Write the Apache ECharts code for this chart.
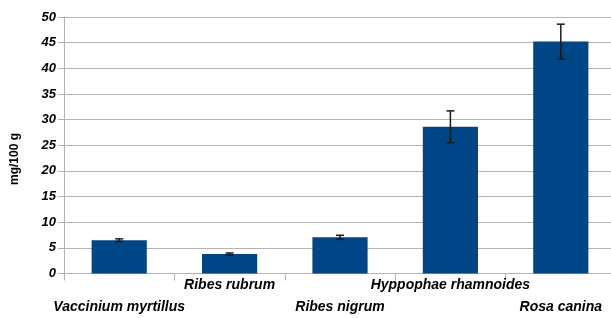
<!DOCTYPE html>
<html>
<head>
<meta charset="utf-8">
<script src="https://cdn.jsdelivr.net/npm/echarts@6/dist/echarts.min.js"></script>
<style>
  html, body { margin: 0; padding: 0; background: #fff; }
  #chart { width: 611px; height: 318px; }
</style>
</head>
<body>
<div id="chart"></div>
<script>
// 数据
var categories = ["Vaccinium myrtillus", "Ribes rubrum", "Ribes nigrum", "Hyppophae rhamnoides", "Rosa canina"];
var values = [6.5, 3.8, 7.05, 28.6, 45.2];
var errors = [0.25, 0.2, 0.4, 3.1, 3.4];
var yTicks = [0, 5, 10, 15, 20, 25, 30, 35, 40, 45, 50];
var yName = "mg/100 g";

(function () {
  var myChart = echarts.init(document.getElementById("chart"));
  var errData = values.map(function (v, i) {
    return [i, v - errors[i], v + errors[i]];
  });
  var option = {
    animation: false,
    grid: {
      left: 64,
      right: -5,
      top: 17,
      bottom: 44.5,
      outerBoundsMode: "none",
      containLabel: false
    },
    // y轴名称
    graphic: [
      {
        type: "text",
        x: 15,
        y: 159,
        rotation: Math.PI / 2,
        style: {
          text: yName,
          fill: "#000",
          font: "bold 12px 'Liberation Sans'",
          align: "center",
          verticalAlign: "middle"
        }
      }
    ],
    xAxis: {
      type: "category",
      data: categories,
      axisLine: { lineStyle: { color: "#b3b3b3", width: 1 } },
      axisTick: { show: true, length: 7, lineStyle: { color: "#b3b3b3" } },
      axisLabel: {
        interval: 0,
        margin: 1,
        color: "#000",
        fontFamily: "Liberation Sans",
        fontWeight: "bold",
        fontStyle: "italic",
        fontSize: 14,
        lineHeight: 22,
        // 标签交错排列
        formatter: function (value, index) {
          return index % 2 === 1 ? value : "\n" + value;
        }
      }
    },
    yAxis: {
      type: "value",
      min: yTicks[0],
      max: yTicks[yTicks.length - 1],
      interval: 5,
      axisLine: { show: true, lineStyle: { color: "#b3b3b3" } },
      axisTick: { show: true, length: 6, lineStyle: { color: "#b3b3b3" } },
      axisLabel: {
        margin: 8,
        color: "#000",
        fontFamily: "Liberation Sans",
        fontWeight: "bold",
        fontStyle: "italic",
        fontSize: 13
      },
      splitLine: { lineStyle: { color: "#b3b3b3", width: 1 } }
    },
    series: [
      {
        type: "bar",
        data: values,
        barWidth: "50%",
        itemStyle: { color: "#004586" }
      },
      {
        type: "custom",
        data: errData,
        z: 10,
        renderItem: function (params, api) {
          var x = api.value(0);
          var lo = api.coord([x, api.value(1)]);
          var hi = api.coord([x, api.value(2)]);
          var hw = 4;
          var style = { stroke: "#1a1a1a", lineWidth: 1.5 };
          return {
            type: "group",
            children: [
              { type: "line", shape: { x1: lo[0], y1: lo[1], x2: hi[0], y2: hi[1] }, style: style },
              { type: "line", shape: { x1: lo[0] - hw, y1: lo[1], x2: lo[0] + hw, y2: lo[1] }, style: style },
              { type: "line", shape: { x1: hi[0] - hw, y1: hi[1], x2: hi[0] + hw, y2: hi[1] }, style: style }
            ]
          };
        }
      }
    ]
  };
  myChart.setOption(option);
})();
</script>
</body>
</html>
